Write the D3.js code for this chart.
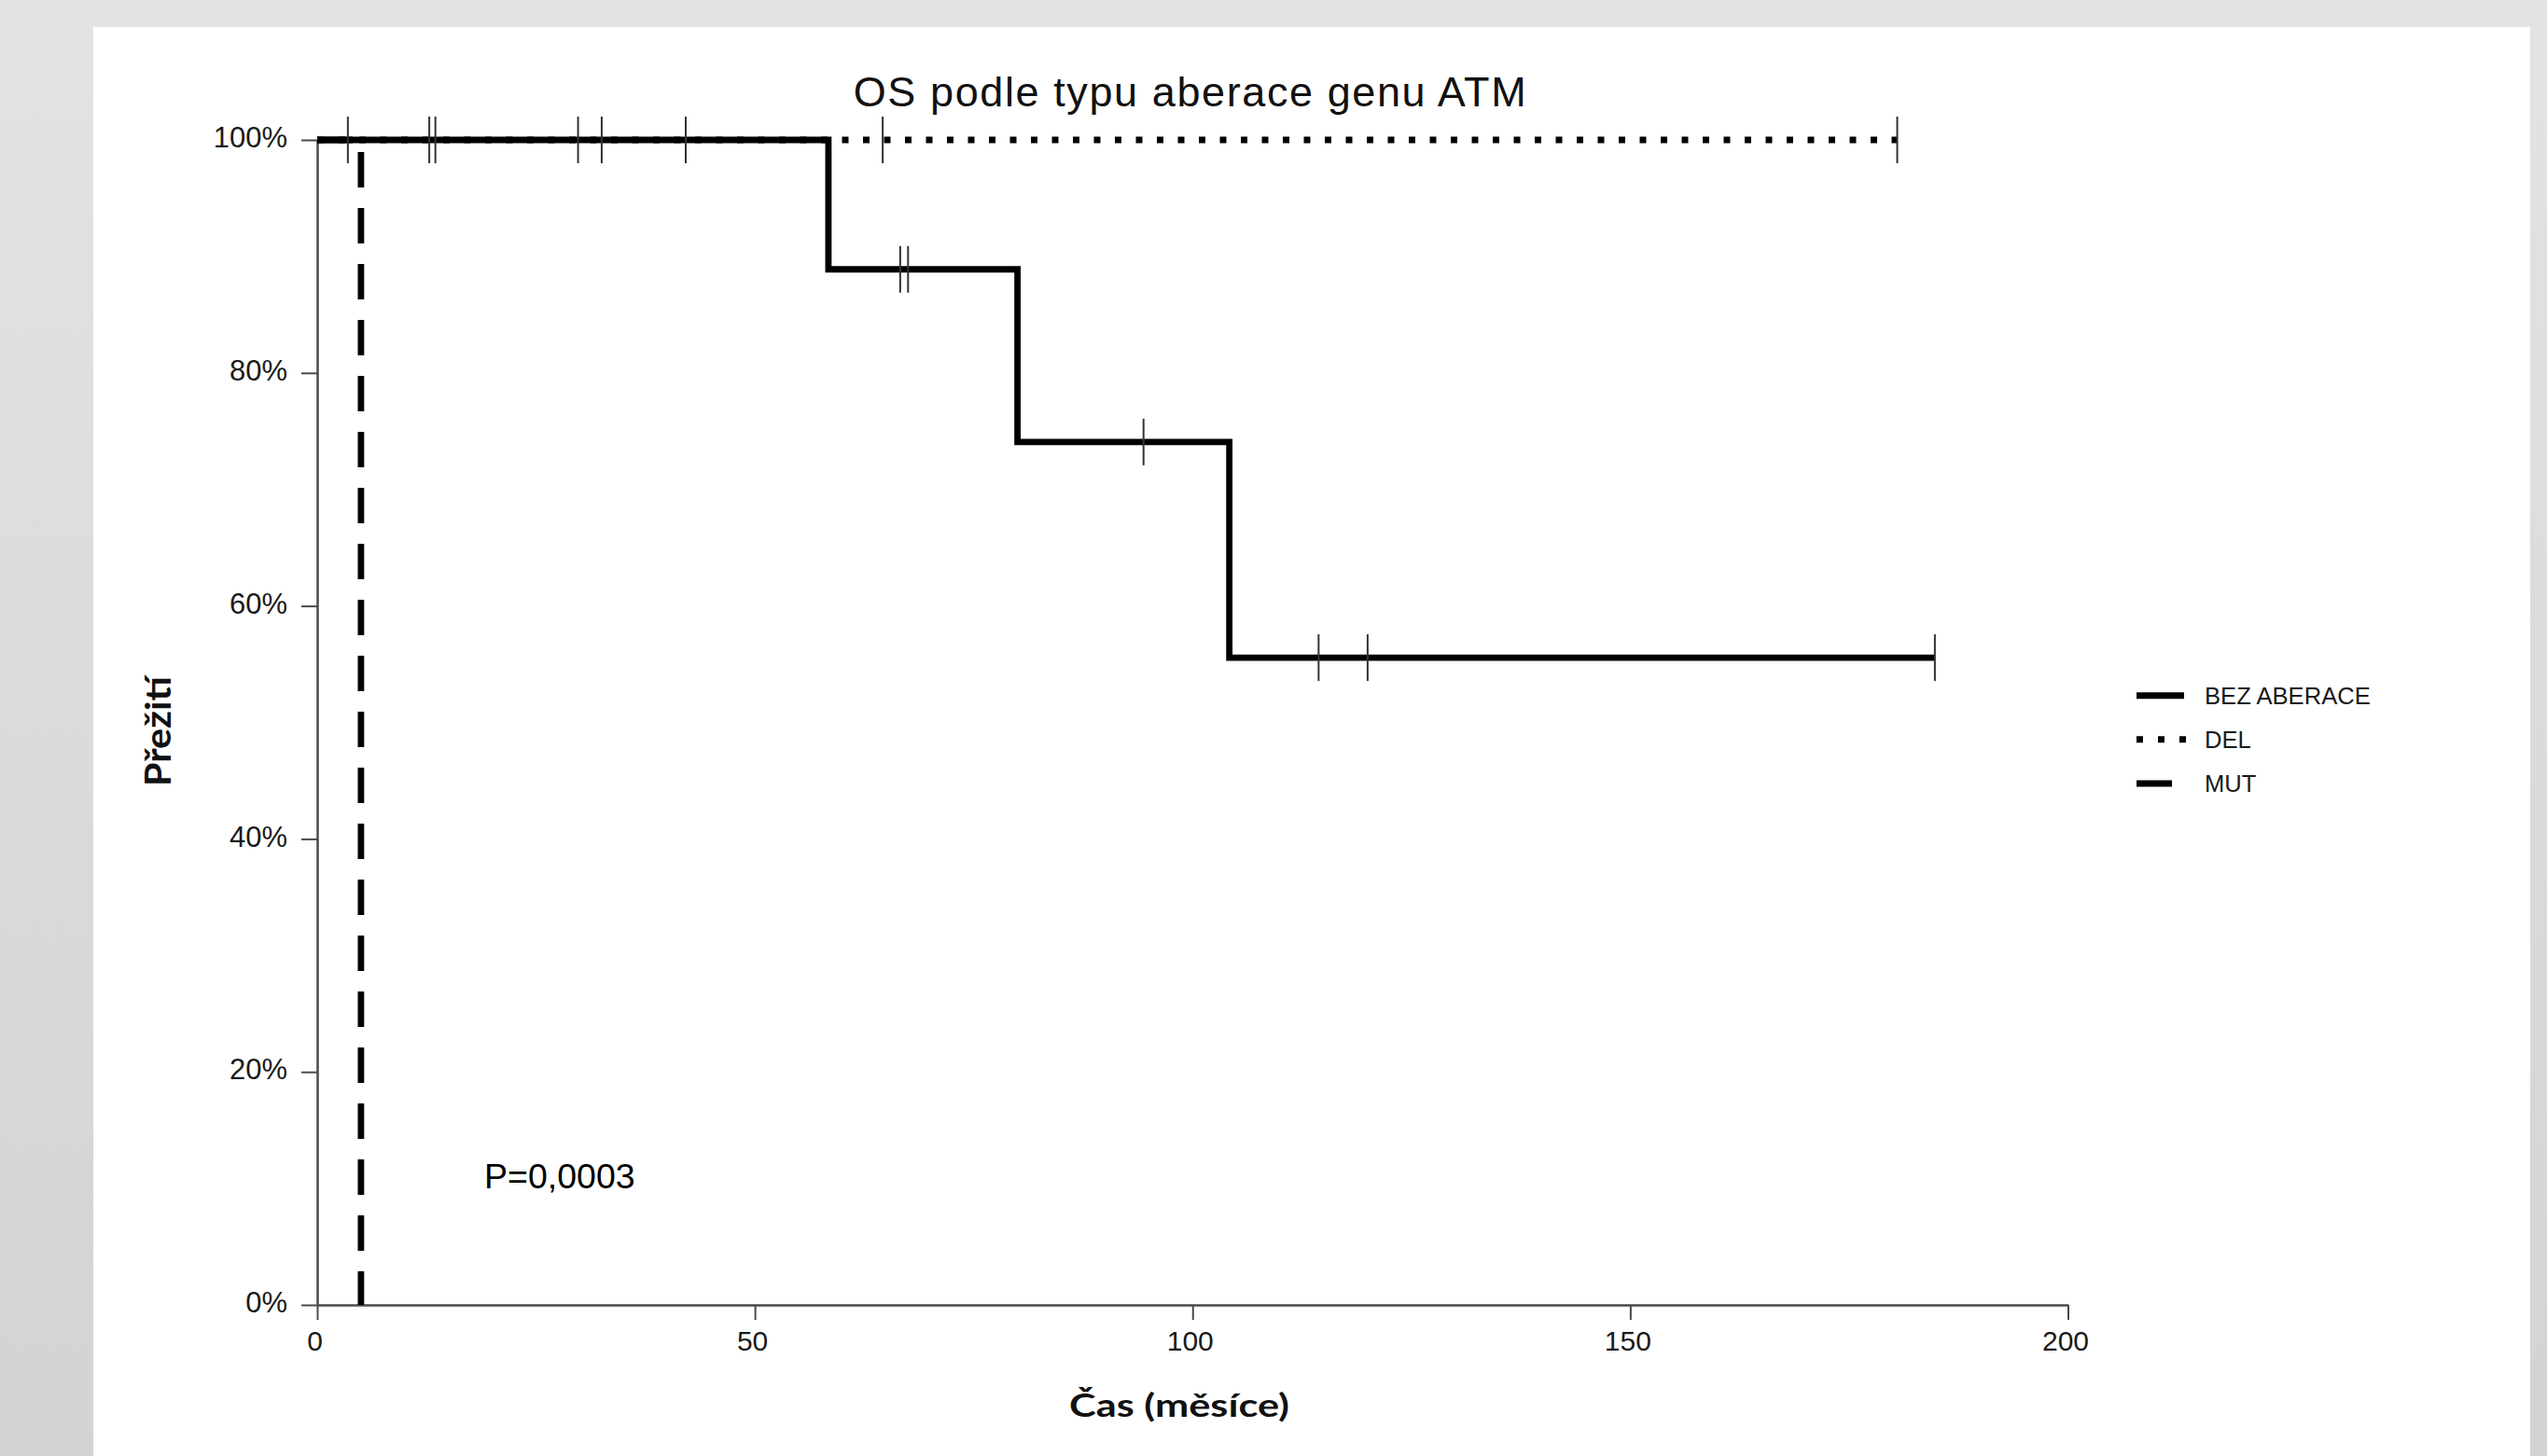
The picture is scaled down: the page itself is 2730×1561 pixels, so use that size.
<!DOCTYPE html>
<html><head><meta charset="utf-8">
<script src="https://cdn.jsdelivr.net/npm/d3@7"></script>
<style>body{margin:0;background:#ddd;overflow:hidden}</style>
</head><body>
<svg id="c" width="2730" height="1561"></svg>
<script>
// ---- data ----
const categories = ["BEZ ABERACE", "DEL", "MUT"];
const bezTimes = [0, 58.4, 80.0, 104.2, 184.8];
const bezSurv = [1, 0.8889, 0.7407, 0.5556, 0.5556];
const bezCensored = [12.8, 13.5, 29.8, 32.5, 42.1, 66.6, 67.5, 94.4, 114.4, 120.0, 184.8];
const delTimes = [0, 180.5];
const delSurv = [1, 1];
const delCensored = [3.5, 64.6, 180.5];
const mutTimes = [0, 5.0];
const mutSurv = [1, 0];
const mutCensored = [];
const xTicks = [0, 50, 100, 150, 200];
const yTicks = [0, 0.2, 0.4, 0.6, 0.8, 1];
const yTickLabels = ["0%", "20%", "40%", "60%", "80%", "100%"];
const titleText = "OS podle typu aberace genu ATM";
const xLabel = "Čas (měsíce)";
const yLabel = "Přežití";
const pText = "P=0,0003";

const series = [
  {name: categories[0], t: bezTimes, s: bezSurv, c: bezCensored, dash: null},
  {name: categories[1], t: delTimes, s: delSurv, c: delCensored, dash: "7,15.5"},
  {name: categories[2], t: mutTimes, s: mutSurv, c: mutCensored, dash: "38,22"}
];

const svg = d3.select("#c");
const defs = svg.append("defs");
const g0 = defs.append("linearGradient").attr("id","bg").attr("x1",0).attr("y1",0).attr("x2",0).attr("y2",1);
g0.append("stop").attr("offset","0%").attr("stop-color","#e3e3e3");
g0.append("stop").attr("offset","100%").attr("stop-color","#d3d3d3");
svg.append("rect").attr("width",2730).attr("height",1561).attr("fill","url(#bg)");
svg.append("rect").attr("x",100).attr("y",29).attr("width",2612).attr("height",1540).attr("fill","#fff");

const x = d3.scaleLinear().domain([0, 200]).range([340, 2216.5]);
const y = d3.scaleLinear().domain([0, 1]).range([1399, 150]);

// axes
const xAxis = svg.append("g").attr("transform", `translate(0,${y(0)})`)
  .call(d3.axisBottom(x).tickValues(xTicks).tickFormat(d3.format("d")).tickSize(16).tickSizeOuter(0).tickPadding(12));
const yAxis = svg.append("g").attr("transform", `translate(${x(0)},0)`)
  .call(d3.axisLeft(y).tickValues(yTicks).tickFormat((d,i)=>yTickLabels[i]).tickSize(17).tickSizeOuter(0).tickPadding(15));
[xAxis, yAxis].forEach(a => {
  a.select(".domain").attr("stroke","#4a4a4a").attr("stroke-width",2.5);
  a.selectAll(".tick line").attr("stroke","#4a4a4a").attr("stroke-width",2);
  a.selectAll("text").attr("fill","#1a1a1a").style("font-family","'Liberation Sans', Arial, sans-serif");
});
xAxis.selectAll("text").style("font-size","30px").attr("dx","-0.1em");
yAxis.selectAll("text").style("font-size","31px").attr("dy","0.25em");

// curves
const line = d3.line().x(d=>x(d[0])).y(d=>y(d[1])).curve(d3.curveStepAfter);
const drawOrder = [series[1], series[0], series[2]];
drawOrder.forEach(sr => {
  const pts = sr.t.map((t,i)=>[t, sr.s[i]]);
  svg.append("path").datum(pts).attr("d", line)
    .attr("fill","none").attr("stroke","#000").attr("stroke-width",6.8)
    .attr("stroke-dasharray", sr.dash).attr("stroke-linejoin","miter");
});

// censor marks
function survAt(sr, t){
  let v = sr.s[0];
  for (let i=0;i<sr.t.length;i++){ if (sr.t[i] <= t) v = sr.s[i]; }
  return v;
}
series.forEach(sr => {
  svg.append("g").selectAll("line").data(sr.c).join("line")
    .attr("x1", d=>x(d)).attr("x2", d=>x(d))
    .attr("y1", d=>y(survAt(sr,d))-25).attr("y2", d=>y(survAt(sr,d))+25)
    .attr("stroke","#333").attr("stroke-width",2);
});

// title
svg.append("text").attr("x", 1276).attr("y", 114).attr("text-anchor","middle")
  .style("font-family","'Liberation Sans', Arial, sans-serif").style("font-size","45px")
  .style("letter-spacing","1.6px").attr("fill","#111").text(titleText);

// axis labels
svg.append("text").attr("x", 1264).attr("y", 1519).attr("text-anchor","middle")
  .style("font-family","Lato, 'Open Sans', sans-serif").style("font-weight","bold").style("font-size","34px")
  .attr("textLength", 236).attr("lengthAdjust","spacingAndGlyphs")
  .attr("fill","#111").text(xLabel);
svg.append("text").attr("transform","translate(183,784) rotate(-90)").attr("text-anchor","middle")
  .style("font-family","Lato, 'Open Sans', sans-serif").style("font-weight","bold").style("font-size","38px")
  .attr("textLength", 118).attr("lengthAdjust","spacingAndGlyphs")
  .attr("fill","#111").text(yLabel);

// p-value
svg.append("text").attr("x", 519).attr("y", 1274)
  .style("font-family","'Liberation Sans', Arial, sans-serif").style("font-size","37.5px")
  .attr("fill","#000").text(pText);

// legend
const legY = [745.7, 792.7, 840];
const legLen = [51, 53, 39];
const legDash = [null, "7,16", "38,22"];
series.forEach((sr,i) => {
  svg.append("line").attr("x1", 2290).attr("x2", 2290 + legLen[i])
    .attr("y1", legY[i]).attr("y2", legY[i])
    .attr("stroke","#000").attr("stroke-width",7).attr("stroke-dasharray", legDash[i]);
  svg.append("text").attr("x", 2363).attr("y", legY[i]).attr("dy","0.36em")
    .style("font-family","'Liberation Sans', Arial, sans-serif").style("font-size","25.6px")
    .attr("fill","#1a1a1a").text(sr.name);
});
</script>
</body></html>
